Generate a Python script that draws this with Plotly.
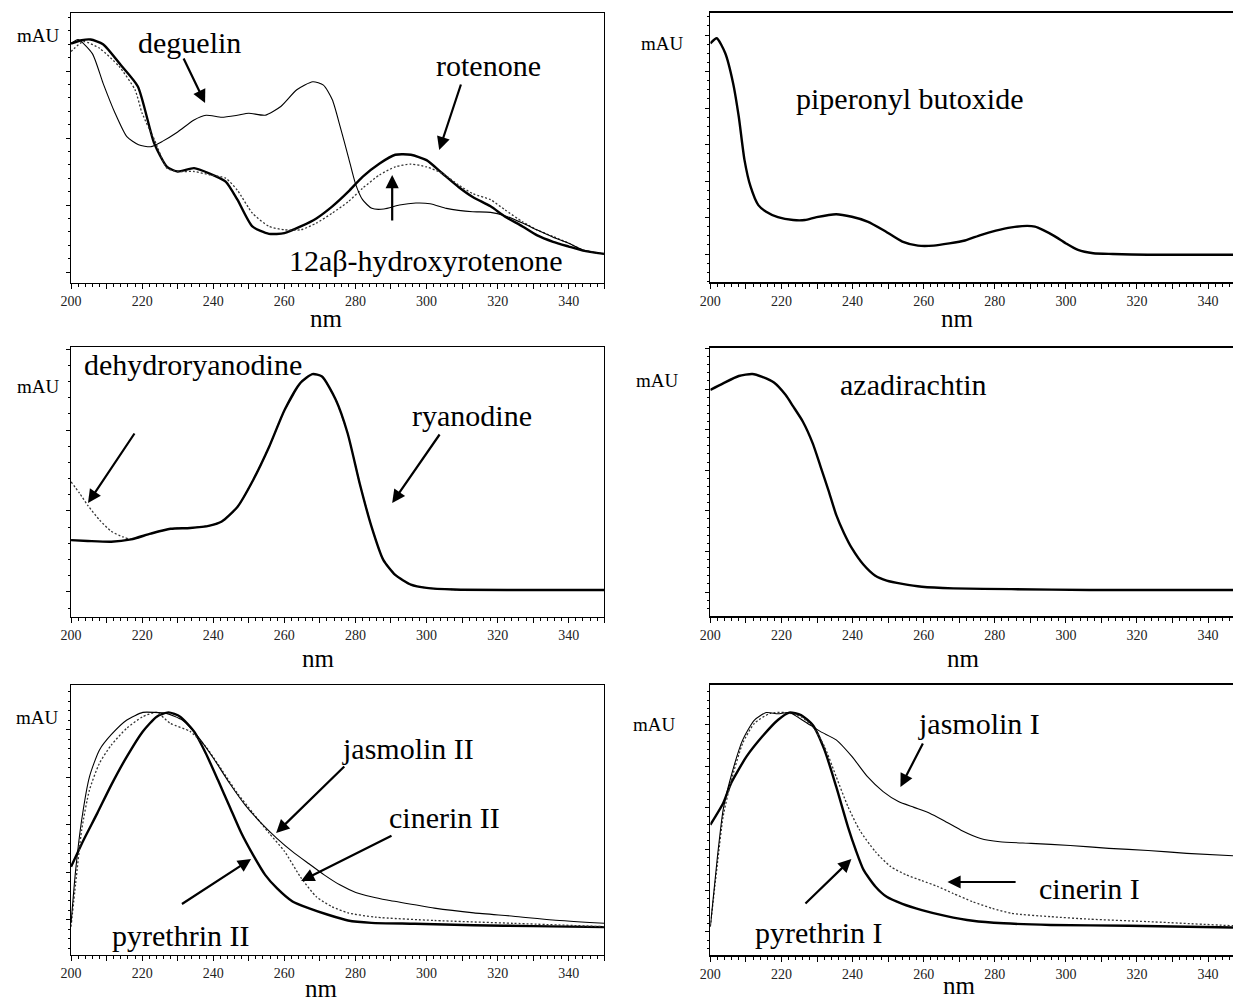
import plotly.graph_objects as go

W, H = 1233, 1001
FONT = "Liberation Serif, Times New Roman, serif"

# ---------------- data (nm, relative absorbance in mAU-like units) ----------------
# Panel 1: rotenoids
ROT_NM = [200, 203, 205.5, 209, 214, 218.8, 223.4, 227, 230, 234.6, 239, 243.5, 246.8, 251, 255.7, 260, 264.6, 269,
          273.5, 278, 282, 286.8, 291.2, 295.6, 300, 304.5, 309, 313, 318, 322, 327, 331, 335.6, 340, 344, 350]
ROT_V = [341, 346, 347, 340, 309, 277, 192, 157, 150, 155, 147, 135, 108, 68, 57, 58, 68, 80,
         98, 120, 142, 162, 175, 175, 167, 147, 127, 112, 98, 83, 68, 55, 45, 38, 32, 27]
HYD_NM = [200, 203.5, 208, 213.5, 218, 220, 223.5, 227, 230, 234.6, 239, 243.5, 246.8, 251, 255.7, 260, 264.6, 269,
          273.5, 278, 282, 286.8, 291.2, 295.6, 300, 304.5, 309, 313, 318, 322, 327, 331, 335.6, 340, 344, 350]
HYD_V = [329, 344, 334, 307, 272, 237, 197, 155, 150, 150, 145, 140, 122, 88, 68, 63, 63, 73,
         88, 105, 125, 145, 157, 161, 157, 147, 130, 117, 108, 93, 75, 63, 53, 43, 33, 27]
DEG_NM = [200, 202, 206, 209, 212.4, 215.7, 219, 222.4, 225.7, 230, 234.6, 238, 242.4, 246.8, 250, 254.6, 259, 263.5,
          268, 271, 273.5, 275.7, 278, 280, 282, 284.6, 288, 292.4, 297, 301, 305.6, 309, 313, 318, 322, 327, 331,
          335.6, 340, 344, 350]
DEG_V = [341, 347, 326, 282, 237, 202, 190, 187, 195, 209, 227, 234, 231, 234, 237, 234, 247, 272,
         284, 279, 257, 217, 172, 132, 108, 95, 94, 100, 103, 102, 95, 92, 90, 89, 84, 73, 63,
         52, 43, 33, 27]

# Panel 2: piperonyl butoxide
PBO_NM = [200, 201.8, 204.2, 206.4, 208, 209.6, 211.3, 213.5, 215.7, 219, 223.3, 226.6, 229.9, 235.4, 239.8, 244.2,
          248.6, 254, 258.4, 262.8, 267.2, 271.6, 276, 280.3, 284.7, 289.1, 291.3, 293.5, 296.8, 300, 303.4, 307.7,
          313.2, 323, 347]
PBO_V = [577, 591, 550, 468, 376, 258, 185, 134, 116, 101, 93, 93, 101, 109, 102, 89,
         66, 34, 23, 23, 29, 37, 52, 64, 73, 77, 75, 66, 49, 29, 11, 2,
         0, -2, -2]

# Panel 3: ryanodine / dehydroryanodine
RYA_NM = [200, 204.7, 211.3, 216.9, 222.4, 228, 233.5, 239, 242.4, 246.8, 251.2, 255.7, 260.1, 264.5, 267.9, 270.6,
          274.5, 277.8, 281.2, 284.5, 287.8, 291.2, 295.6, 300, 307.8, 324.4, 350]
RYA_V = [64, 63, 62, 65, 72, 78, 79, 82, 87, 105, 138, 179, 225, 258, 269, 266,
         237, 196, 134, 81, 40, 21, 9, 5, 3, 2.5, 2.5]
DHR_NM = [200, 202.4, 204.7, 208, 211.3, 214.6, 216.9, 222.4, 228, 233.5, 239, 242.4, 246.8, 251.2, 255.7, 260.1,
          264.5, 267.9, 270.6, 274.5, 277.8, 281.2, 284.5, 287.8, 291.2, 295.6, 300, 307.8, 324.4, 350]
DHR_V = [136, 122, 107, 89, 75, 68, 65, 72, 78, 79, 82, 87, 105, 138, 179, 225,
         258, 269, 266, 237, 196, 134, 81, 40, 21, 9, 5, 3, 2.5, 2.5]

# Panel 4: azadirachtin
AZA_NM = [200, 203.6, 208, 211.8, 214.6, 217.9, 221.2, 223.3, 226, 228.8, 231, 233.2, 235.4, 237.6, 239.8, 243.1,
          246.4, 249.6, 254, 259.5, 268.3, 284.7, 306.6, 347]
AZA_V = [498, 514, 532, 537, 530, 516, 485, 457, 420, 366, 309, 251, 190, 145, 108, 67,
         40, 28, 20, 13, 9, 7, 5, 5]

# Panel 5: pyrethrins II
PY2_NM = [200, 203.5, 207.4, 211.3, 215.7, 220.2, 224.1, 227.4, 230.7, 234.6, 237.9, 241.3, 244.6, 247.9, 251.2,
          254.6, 257.9, 262.3, 266.8, 272.3, 277.9, 284.5, 296.7, 313.3, 330, 350]
PY2_V = [112, 168, 225, 284, 344, 397, 428, 437, 428, 397, 351, 295, 239, 183, 137,
         95, 67, 39, 25, 11, -1, -6, -8, -11, -13, -15]
JA2_NM = [200, 201.3, 203, 205.2, 208, 211.3, 215.7, 220.2, 223.5, 226.8, 231.3, 235.7, 240.1, 244.6, 249, 253.5,
          257.9, 262.3, 266.8, 271.2, 275.6, 280.1, 284.5, 288.9, 296.7, 302.2, 313.3, 324.4, 335.5, 350]
JA2_V = [-7, 105, 211, 302, 358, 390, 421, 437, 437, 435, 421, 386, 340, 288, 242, 204,
         172, 144, 119, 95, 74, 58, 49, 42, 32, 25, 15, 8, 0, -7]
CI2_NM = [200, 201.3, 203, 205.2, 208, 211.3, 215.7, 220.2, 224.1, 227.9, 233.5, 237.9, 242.4, 246.8, 251.2, 255.7,
          260.1, 264.5, 269, 273.4, 277.9, 285.6, 302.2, 324.4, 350]
CI2_V = [-14, 77, 190, 274, 330, 368, 404, 428, 437, 414, 397, 365, 316, 267, 225, 183,
         144, 91, 49, 28, 15, 6, -1, -7, -14]

# Panel 6: pyrethrins I
PY1_NM = [200, 203.6, 205.8, 210.2, 214.6, 219, 222.2, 225.5, 228.8, 232.1, 235.4, 238.7, 240.9, 243.1, 246.4,
          249.6, 254, 259.5, 266.1, 273.8, 282.5, 295.7, 317.6, 347]
PY1_V = [259, 311, 359, 424, 472, 512, 530, 524, 500, 440, 351, 254, 198, 150, 110,
         85, 68, 53, 39, 27, 21, 17, 15, 11]
JA1_NM = [200, 202, 203.6, 205.8, 209.1, 212.4, 215.7, 219, 222.2, 226.6, 231, 235.4, 239.8, 244.2, 248.6, 252.9,
          257.3, 261.7, 266.1, 270.5, 276, 281.4, 290.2, 301.2, 312.1, 323.1, 334, 347]
JA1_V = [13, 182, 295, 375, 464, 512, 530, 527, 530, 508, 484, 464, 424, 375, 339, 315,
         301, 287, 267, 246, 226, 218, 214, 209, 202, 197, 190, 184]
CI1_NM = [200, 202, 203.6, 205.8, 209.1, 212.4, 216.8, 221.2, 225.5, 228.8, 232.1, 235.4, 238.7, 242, 246.4, 250.7,
          255.1, 259.5, 263.9, 268.3, 273.8, 279.3, 284.7, 295.7, 306.6, 323.1, 347]
CI1_V = [13, 166, 279, 363, 456, 504, 528, 530, 520, 496, 448, 375, 303, 246, 194, 158,
         138, 124, 110, 93, 73, 57, 45, 37, 31, 25, 15]

X_TICKS = list(range(200, 351, 10))
X_LABELS = [str(v) if v % 20 == 0 else "" for v in X_TICKS]

# ---------------- layout helpers ----------------
def fx(px):
    # horizontal placement (paper fraction) for a target screen pixel
    return min(max((px - 10) / 0.9906 / W, 0.0), 1.0)

def fy(py):
    return 1 - py / H

# panels: (x0px, x1px, top, bottom, xrange, yrange, yminor, right border)
PANELS = [
    (70, 603, 13, 283, [200, 350], [-16.4, 386.6], 20, True),
    (709, 1233, 13, 282, [200, 347], [-76.7, 660.3], 25, False),
    (70, 603, 347, 617, [200, 350], [-30.9, 302.5], 20, True),
    (709, 1233, 348, 616, [200, 347], [-59.1, 601.0], 20, False),
    (70, 603, 685, 955, [200, 350], [-73.7, 494.7], 20, True),
    (709, 1233, 685, 955, [200, 347], [-55.6, 596.6], 20, False),
]

THICK = dict(color="black", width=2.4, shape="spline", smoothing=0.6)
THIN = dict(color="black", width=1.1, shape="spline", smoothing=0.6)
DOT = dict(color="#333", width=1.3, dash="2px,2px", shape="spline", smoothing=0.6)

SERIES = [
    (1, ROT_NM, ROT_V, THICK, "rotenone"),
    (1, HYD_NM, HYD_V, DOT, "12aβ-hydroxyrotenone"),
    (1, DEG_NM, DEG_V, THIN, "deguelin"),
    (2, PBO_NM, PBO_V, THICK, "piperonyl butoxide"),
    (3, DHR_NM, DHR_V, DOT, "dehydroryanodine"),
    (3, RYA_NM, RYA_V, THICK, "ryanodine"),
    (4, AZA_NM, AZA_V, THICK, "azadirachtin"),
    (5, PY2_NM, PY2_V, THICK, "pyrethrin II"),
    (5, CI2_NM, CI2_V, DOT, "cinerin II"),
    (5, JA2_NM, JA2_V, THIN, "jasmolin II"),
    (6, PY1_NM, PY1_V, THICK, "pyrethrin I"),
    (6, CI1_NM, CI1_V, DOT, "cinerin I"),
    (6, JA1_NM, JA1_V, THIN, "jasmolin I"),
]

fig = go.Figure()
for i, xs, ys, ln, name in SERIES:
    sfx = "" if i == 1 else str(i)
    fig.add_trace(go.Scatter(x=xs, y=ys, mode="lines", line=ln, name=name,
                             xaxis="x" + sfx, yaxis="y" + sfx, showlegend=False,
                             cliponaxis=True, hoverinfo="skip"))

layout = dict(width=W, height=H, margin=dict(l=0, r=0, t=0, b=0),
              paper_bgcolor="white", plot_bgcolor="white", showlegend=False)
for i, (x0, x1, top, bot, xr, yr, ymin, rborder) in enumerate(PANELS, start=1):
    sfx = "" if i == 1 else str(i)
    layout["xaxis" + sfx] = dict(
        domain=[fx(x0), fx(x1)], range=xr, anchor="y" + sfx,
        tickmode="array", tickvals=X_TICKS, ticktext=X_LABELS,
        ticks="outside", ticklen=5, tickwidth=1, tickcolor="black",
        minor=dict(dtick=2, tick0=200, ticks="outside", ticklen=3, tickcolor="black", showgrid=False),
        showline=True, linecolor="black", linewidth=1.2 if rborder else 1.8, mirror=True,
        showgrid=False, zeroline=False,
        tickfont=dict(family=FONT, size=14, color="#222"))
    layout["yaxis" + sfx] = dict(
        domain=[fy(bot), fy(top)], range=yr, anchor="x" + sfx,
        tick0=0, dtick=100, ticks="outside", ticklen=4, tickcolor="black",
        minor=dict(dtick=ymin, ticks="outside", ticklen=2, tickcolor="black", showgrid=False),
        showticklabels=False, showline=True, linecolor="black", linewidth=1.2, mirror=rborder,
        showgrid=False, zeroline=False)

fig.update_layout(**layout)

ann = []
def text(t, px, py, size=30):
    ann.append(dict(text=t, x=fx(px), y=fy(py), xref="paper", yref="paper", showarrow=False,
                    xanchor="center", yanchor="middle",
                    font=dict(family=FONT, size=size, color="black")))

def arrow(tx, ty, hx, hy):
    ann.append(dict(text="", x=fx(hx), y=fy(hy), xref="paper", yref="paper", showarrow=True,
                    ax=(tx - hx) / 0.9906, ay=ty - hy, axref="pixel", ayref="pixel",
                    arrowhead=2, arrowsize=1.2, arrowwidth=2.2, arrowcolor="black",
                    standoff=0, startstandoff=0))

# compound labels
text("deguelin", 188, 42)
text("rotenone", 487, 65)
text("12aβ-hydroxyrotenone", 425, 261)
text("piperonyl butoxide", 908, 98)
text("dehydroryanodine", 192, 364)
text("ryanodine", 471, 415)
text("azadirachtin", 912, 385)
text("jasmolin II", 407, 748)
text("cinerin II", 443, 817)
text("pyrethrin II", 179, 935)
text("jasmolin I", 978, 723)
text("cinerin I", 1088, 888)
text("pyrethrin I", 817, 932)

arrow(182, 57, 204, 103)
arrow(460, 83, 438, 150)
arrow(391, 222, 391, 175)
arrow(134, 432, 87, 503)
arrow(439, 433, 391, 503)
arrow(344, 765, 275, 833)
arrow(391, 835, 300, 881)
arrow(180, 905, 250, 859)
arrow(922, 742, 899, 787)
arrow(1015, 882, 946, 882)
arrow(803, 905, 850, 859)

# axis captions
for px, py in [(37, 35), (661, 44), (37, 386), (656, 380), (36, 717), (653, 724)]:
    text("mAU", px, py, size=19)
for px, py in [(325, 318), (956, 318), (317, 658), (962, 658), (320, 988), (958, 985)]:
    text("nm", px, py, size=25)

fig.update_layout(annotations=ann)
fig.write_html("out.html",
               config={"displayModeBar": False, "staticPlot": True},
               post_script="document.body.style.margin='0px';"
                           "document.documentElement.style.overflow='hidden';")
